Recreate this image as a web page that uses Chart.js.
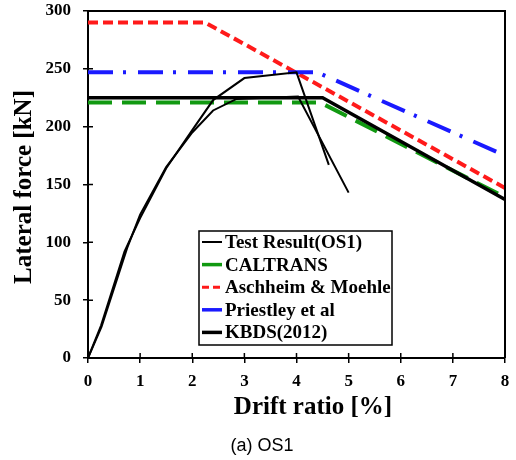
<!DOCTYPE html>
<html><head><meta charset="utf-8">
<script src="https://cdn.jsdelivr.net/npm/chart.js@4/dist/chart.umd.min.js"></script>
<style>html,body{margin:0;padding:0;background:#fff;} #wrap{width:516px;height:460px;}</style>
</head><body><div id="wrap"><canvas id="c" width="516" height="460"></canvas></div>
<script>
// ---- data ----
const testDriftA = [0, 0.25, 0.7, 1, 1.5, 2, 2.4, 3, 4, 4.62];
const testForceA = [0, 28, 92, 121, 164, 197, 223, 242, 247, 167];
const testDriftB = [0, 0.26, 0.75, 1, 1.5, 2, 2.4, 2.85, 4.03, 5.0];
const testForceB = [0, 27, 95, 124, 165, 195, 214, 224, 226, 143];
const caltransDrift = [0, 4.45, 8];
const caltransForce = [221, 221, 139];
const aschDrift = [0, 2.25, 8];
const aschForce = [290, 290, 147];
const priestleyDrift = [0, 4.4, 8];
const priestleyForce = [247, 247, 175];
const kbdsDrift = [0, 4.5, 8];
const kbdsForce = [225, 225, 137];
const seriesLabels = ['Test Result(OS1)', 'CALTRANS', 'Aschheim & Moehle', 'Priestley et al', 'KBDS(2012)'];
const xTickValues = [0, 1, 2, 3, 4, 5, 6, 7, 8];
const yTickValues = [0, 50, 100, 150, 200, 250, 300];
const xTitle = 'Drift ratio [%]';
const yTitle = 'Lateral force [kN]';
const caption = '(a) OS1';

function pts(xs, ys) { return xs.map((x, i) => ({ x: x, y: ys[i] })); }

const SERIF = "'Liberation Serif','Times New Roman',serif";
const SANS = "'Liberation Sans',Arial,sans-serif";

const datasets = [
  { label: seriesLabels[0], data: pts(testDriftA, testForceA), borderColor: '#000', borderWidth: 2, order: 0, legendWidth: 2, legendDash: [] },
  { label: seriesLabels[0], data: pts(testDriftB, testForceB), borderColor: '#000', borderWidth: 2, order: 0, hideInLegend: true },
  { label: seriesLabels[1], data: pts(caltransDrift, caltransForce), borderColor: '#119911', borderWidth: 4, borderDash: [24, 10], order: 3, legendWidth: 3.5, legendDash: [] },
  { label: seriesLabels[2], data: pts(aschDrift, aschForce), borderColor: '#ff1a1a', borderWidth: 4, borderDash: [10, 5], order: 4, legendWidth: 3, legendDash: [7, 4] },
  { label: seriesLabels[3], data: pts(priestleyDrift, priestleyForce), borderColor: '#1a1aff', borderWidth: 4, borderDash: [25, 10, 3, 12], order: 2, legendWidth: 3.5, legendDash: [] },
  { label: seriesLabels[4], data: pts(kbdsDrift, kbdsForce), borderColor: '#000', borderWidth: 3.5, order: 1, legendWidth: 3.5, legendDash: [] }
];

const framePlugin = {
  id: 'frame',
  afterDraw(chart) {
    const { ctx, chartArea: a, scales } = chart;
    ctx.save();
    ctx.strokeStyle = '#000';
    ctx.lineWidth = 2;
    ctx.beginPath();
    ctx.moveTo(a.left, a.top); ctx.lineTo(a.right, a.top); ctx.lineTo(a.right, a.bottom);
    ctx.stroke();
    ctx.lineWidth = 1.5;
    ctx.beginPath();
    yTickValues.forEach(v => { const y = scales.y.getPixelForValue(v); ctx.moveTo(a.left, y); ctx.lineTo(a.left + 5, y); });
    xTickValues.forEach(v => { const x = scales.x.getPixelForValue(v); ctx.moveTo(x, a.bottom); ctx.lineTo(x, a.bottom - 5); });
    ctx.stroke();
    ctx.fillStyle = '#000';
    // axis titles
    ctx.font = 'bold 25px ' + SERIF;
    ctx.textAlign = 'center';
    ctx.textBaseline = 'alphabetic';
    ctx.fillText(xTitle, 313, 414);
    ctx.save();
    ctx.translate(31, 187);
    ctx.rotate(-Math.PI / 2);
    ctx.fillText(yTitle, 0, 0);
    ctx.restore();
    // caption
    ctx.font = '18px ' + SANS;
    ctx.textAlign = 'center';
    ctx.textBaseline = 'middle';
    ctx.fillText(caption, 262, 446);
    // legend
    const items = chart.data.datasets.filter(d => !d.hideInLegend);
    const bx = 199, by = 231, bw = 193, bh = 114;
    ctx.fillStyle = '#fff';
    ctx.fillRect(bx, by, bw, bh);
    ctx.lineWidth = 1.5;
    ctx.strokeStyle = '#000';
    ctx.strokeRect(bx, by, bw, bh);
    ctx.font = 'bold 19px ' + SERIF;
    ctx.textAlign = 'left';
    items.forEach((d, i) => {
      const y = 242 + i * 22.6;
      ctx.strokeStyle = d.borderColor;
      ctx.lineWidth = d.legendWidth;
      ctx.setLineDash(d.legendDash);
      ctx.beginPath(); ctx.moveTo(202, y); ctx.lineTo(222, y); ctx.stroke();
      ctx.setLineDash([]);
      ctx.fillStyle = '#000';
      ctx.fillText(d.label, 225, y + 1);
    });
    ctx.restore();
  }
};

new Chart(document.getElementById('c'), {
  type: 'line',
  data: { datasets: datasets },
  options: {
    responsive: false,
    animation: false,
    devicePixelRatio: 1,
    layout: { padding: { left: 0, right: 11, top: 11, bottom: 0 } },
    elements: { point: { radius: 0 }, line: { tension: 0, borderCapStyle: 'butt' } },
    plugins: { legend: { display: false }, tooltip: { enabled: false } },
    scales: {
      x: {
        type: 'linear', min: 0, max: 8,
        afterBuildTicks: s => { s.ticks = xTickValues.map(v => ({ value: v })); },
        afterFit: s => { s.height = 102; s.paddingLeft = 0; s.paddingRight = 0; },
        ticks: { color: '#000', font: { family: SERIF, size: 17, weight: 'bold' }, padding: 8, maxRotation: 0 },
        grid: { drawOnChartArea: false, drawTicks: true, tickLength: 5, color: '#000', lineWidth: 1.5 },
        border: { color: '#000', width: 2 },
        title: { display: false }
      },
      y: {
        type: 'linear', min: 0, max: 300,
        afterBuildTicks: s => { s.ticks = yTickValues.map(v => ({ value: v })); },
        afterFit: s => { s.width = 88; s.paddingTop = 0; s.paddingBottom = 0; },
        ticks: { color: '#000', font: { family: SERIF, size: 17, weight: 'bold' }, padding: 12 },
        grid: { drawOnChartArea: false, drawTicks: true, tickLength: 5, color: '#000', lineWidth: 1.5 },
        border: { color: '#000', width: 2 },
        title: { display: false }
      }
    }
  },
  plugins: [framePlugin]
});
</script>
</body></html>
